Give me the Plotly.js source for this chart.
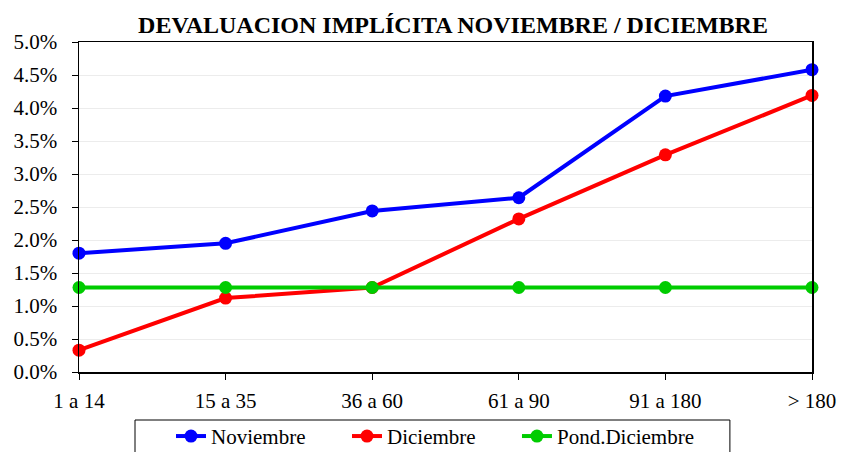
<!DOCTYPE html>
<html>
<head>
<meta charset="utf-8">
<script src="https://cdn.plot.ly/plotly-3.0.1.min.js"></script>
<style>html,body{margin:0;padding:0;background:#fff;}#chart{width:842px;height:452px;}</style>
</head>
<body>
<div id="chart"></div>
<script>
const categories = ['1 a 14', '15 a 35', '36 a 60', '61 a 90', '91 a 180', '> 180'];
const noviembre = [0.0180, 0.0195, 0.0244, 0.0264, 0.0418, 0.0458];
const diciembre = [0.0033, 0.0112, 0.0128, 0.0232, 0.0329, 0.0419];
const pondDiciembre = [0.0128, 0.0128, 0.0128, 0.0128, 0.0128, 0.0128];
const seriesNames = ['Noviembre', 'Diciembre', 'Pond.Diciembre'];
const colors = ['#0000ff', '#ff0000', '#00cc00'];
const legendIds = ['legend', 'legend2', 'legend3'];
const legendX = [0.1255, 0.3656, 0.5975];

const font = 'Liberation Serif, Times New Roman, serif';
const data = [noviembre, diciembre, pondDiciembre].map((v, i) => ({
  type: 'scatter', mode: 'lines+markers', x: categories, y: v, name: seriesNames[i],
  line: {color: colors[i], width: 4}, marker: {color: colors[i], size: 13},
  cliponaxis: false, legend: legendIds[i]
}));

const layout = {
  width: 842, height: 452,
  margin: {l: 79, r: 30, t: 42, b: 80, autoexpand: false},
  paper_bgcolor: '#fff', plot_bgcolor: '#fff',
  font: {family: font, size: 21, color: '#000'},
  title: {text: '<b>DEVALUACION IMPLÍCITA NOVIEMBRE / DICIEMBRE</b>', font: {family: font, size: 24, color: '#000'},
          x: 0.538, xanchor: 'center', y: 0.945, yanchor: 'middle'},
  xaxis: {type: 'category', range: [0, 5], showline: true, linecolor: '#000', linewidth: 1.5, mirror: true,
          ticks: 'outside', ticklen: 6, tickcolor: '#000', showgrid: false, zeroline: false,
          ticklabelstandoff: 3, tickfont: {family: font, size: 21, color: '#000'}},
  yaxis: {range: [0, 0.05], dtick: 0.005, tickformat: '.1%', showline: true, linecolor: '#000', linewidth: 1.5, mirror: true,
          ticks: 'outside', ticklen: 6, tickcolor: '#000', gridcolor: '#ececec', gridwidth: 1, zeroline: false,
          ticklabelstandoff: 10, tickfont: {family: font, size: 21, color: '#000'}},
  showlegend: true,
  shapes: [{type: 'rect', xref: 'paper', yref: 'paper', x0: 0.0764, x1: 0.888, y0: -0.1455, y1: -0.27,
            line: {color: '#000', width: 1}, fillcolor: 'rgba(0,0,0,0)', layer: 'below'}]
};
legendIds.forEach((id, i) => {
  layout[id] = {orientation: 'h', x: legendX[i], xanchor: 'left', y: -0.133, yanchor: 'top',
                borderwidth: 0, bgcolor: 'rgba(0,0,0,0)',
                font: {family: font, size: 21, color: '#000'}};
});

Plotly.newPlot('chart', data, layout, {displayModeBar: false, staticPlot: true});
</script>
</body>
</html>
